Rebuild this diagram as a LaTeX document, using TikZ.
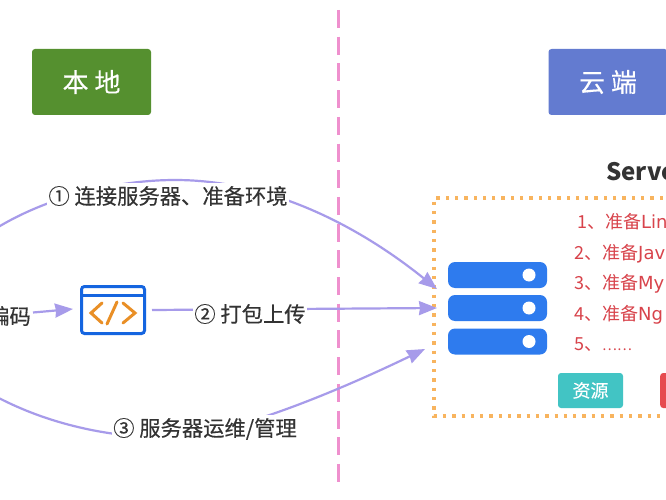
\documentclass[tikz,border=0pt]{standalone}
\usepackage{fontspec}
\setmainfont{Noto Sans CJK SC}
\newfontfamily\heavycjk[FakeBold=0.35]{Noto Sans CJK SC}
\newfontfamily\roundlatin{DejaVu Sans}
\usetikzlibrary{arrows.meta}
\definecolor{lilac}{HTML}{A79BEA}
\definecolor{sidegreen}{HTML}{55902F}
\definecolor{sideblue}{HTML}{637BD0}
\definecolor{dashpink}{HTML}{EF90CE}
\definecolor{dotorange}{HTML}{F8B45E}
\definecolor{rackblue}{HTML}{2E7BEE}
\definecolor{iconblue}{HTML}{1565E0}
\definecolor{iconorange}{HTML}{E98F26}
\definecolor{todored}{HTML}{D8434B}
\definecolor{talk}{HTML}{333333}
\definecolor{tagteal}{HTML}{42C4C4}
\definecolor{tagred}{HTML}{E64B4F}
\tikzset{
    sidebox/.style={rounded corners=3pt,text=white,minimum width=119pt,minimum height=66pt,font=\fontsize{26}{26}\heavycjk},
    flow/.style={lilac,line width=2.2pt},
    flowtip/.style={flow,-{Stealth[length=18pt,width=14pt,inset=1pt]}},
    steplabel/.style={fill=white,text=talk,inner xsep=1pt,inner ysep=3pt,font=\fontsize{21.3}{21.3}\heavycjk},
    rack/.style={fill=rackblue,rounded corners=7pt,minimum width=99pt,minimum height=26pt},
    rackdot/.style={circle,fill=white,minimum size=13pt,inner sep=0pt},
    todo/.style={anchor=west,text=todored,inner sep=0pt,font=\fontsize{18}{18}\selectfont},
    tagbox/.style={rounded corners=3pt,minimum height=35pt,text=white,font=\fontsize{18}{18}\heavycjk}
}
\begin{document}
\begin{tikzpicture}[x=1pt,y=-1pt]
            \useasboundingbox (0,0) rectangle (666,500);
            \clip (0,0) rectangle (666,500);
            \fill[white] (0,0) rectangle (666,500);

            \node[sidebox,fill=sidegreen] (local) at (91.5,82){本 地};
            \node[sidebox,fill=sideblue] (cloud) at (608,82){云 端};
            \draw[dashpink,line width=3pt,dash pattern=on 18pt off 8.7pt] (338,10) to (338,489);

            \node[draw=iconblue,line width=3pt,rounded corners=3pt,minimum width=63pt,minimum height=47pt,inner sep=0pt] (codeicon) at (113,310){};
            \draw[iconblue,line width=3pt] (codeicon.north west)++(0,10) to ++(66,0);
            \draw[iconorange,line width=3pt,line cap=round] (102,303) to (91,313) to (102,323);
            \draw[iconorange,line width=3pt,line cap=round] (117,302) to (107,324);
            \draw[iconorange,line width=3pt,line cap=round] (123,303) to (135,313) to (123,323);

            \node[rack] (rackone) at (497.5,275){};
            \node[rack] (racktwo) at (497.5,308){};
            \node[rack] (rackthree) at (497.5,341.5){};
            \node[rackdot] at (529,275){};
            \node[rackdot] at (529,308){};
            \node[rackdot] at (529,341.5){};

            \draw[dotorange,line width=3.3pt,dash pattern=on 3.3pt off 6pt] (700,198) to (434,198) to (434,416) to (700,416);

            \coordinate (onestart) at (-5,229);
            \coordinate (onetop) at (175,180);
            \coordinate (oneend) at (437,289);
            \coordinate (threestart) at (-5,396);
            \coordinate (threelow) at (175,438);
            \coordinate (threeend) at (425,349);
            \coordinate (twoend) at (437,308);

            \draw[flowtip] (onestart) .. controls (50,195) and (120,180) .. (onetop) .. controls (280,180) and (370,235) .. (oneend);
            \draw[flowtip] (threestart) .. controls (40,420) and (100,438) .. (threelow) .. controls (240,432) and (340,390) .. (threeend);
            \draw[flowtip] (codeicon.east)++(6,0) to (twoend);

            \node[steplabel] (stepone) at (168,196){① 连接服务器、准备环境};
            \node[steplabel] (steptwo) at (250,314){② 打包上传};
            \node[steplabel] (stepthree) at (205,429){③ 服务器运维/管理};
            \node[anchor=east,text=talk,inner sep=0pt,font=\fontsize{21.3}{21.3}\heavycjk] (coding) at (31,316){编码};
            \draw[flowtip] (coding.east)++(2,-3.5) to ([xshift=-7pt,yshift=1pt]codeicon.west);

            \node[anchor=west,text=talk,inner sep=0pt,font=\fontsize{24}{24}\selectfont\bfseries] (server) at (606,172){Serve};
            \node[todo] (todoone) at (577,222){1、准备{\roundlatin Lin}};
            \node[todo] (todotwo) at (574,254){2、准备{\roundlatin Jav}};
            \node[todo] (todothree) at (574,284){3、准备{\roundlatin My}};
            \node[todo] (todofour) at (574,315){4、准备{\roundlatin Ng}};
            \node[todo] (todofive) at (574,345){5、{\fontsize{14}{14}\selectfont ……}};

            \node[tagbox,fill=tagteal,minimum width=65pt] (resource) at (590.5,390.5){资源};
            \node[tagbox,fill=tagred,minimum width=40pt,anchor=west] (redtag) at (660,390.5){};
        \end{tikzpicture}
\end{document}
